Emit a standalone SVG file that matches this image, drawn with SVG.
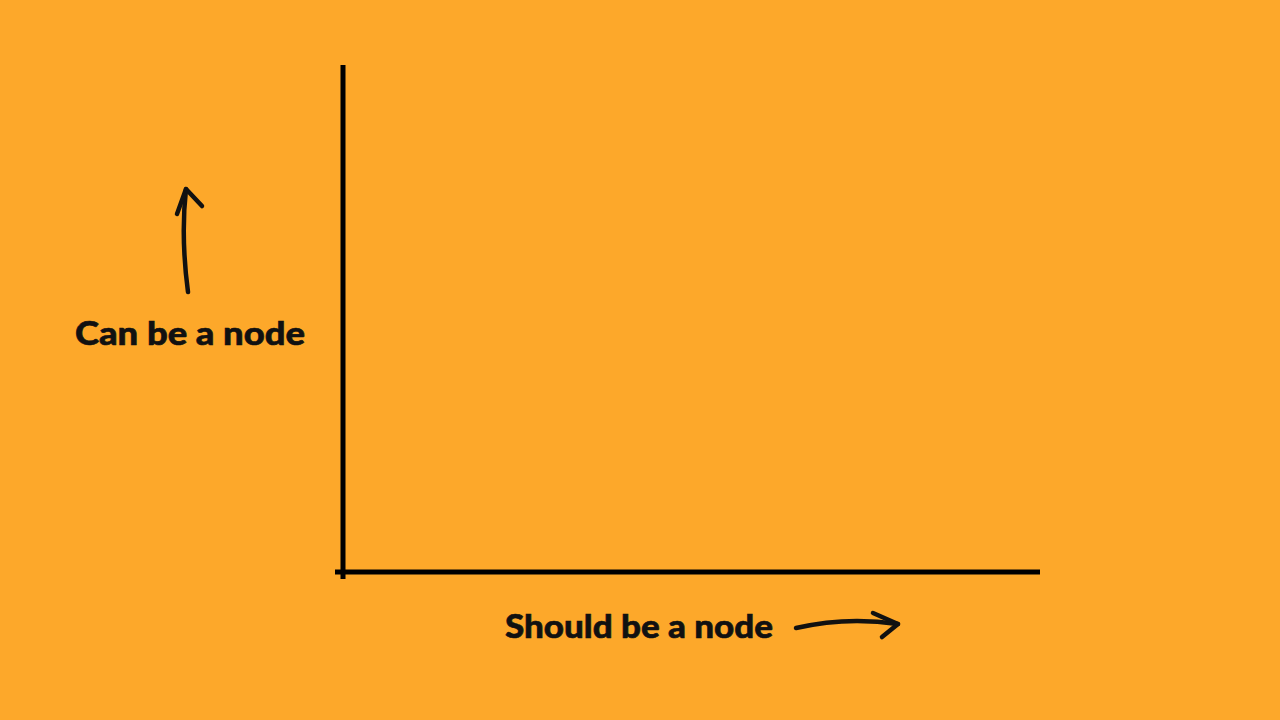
<svg xmlns="http://www.w3.org/2000/svg" width="1280" height="720" viewBox="0 0 1280 720">
<style>
.axis{stroke:#000;stroke-width:5;fill:none}
.arr{stroke:#111;stroke-width:4.5;fill:none;stroke-linecap:round;stroke-linejoin:round}
.lbl{font-family:"Lato","Noto Sans",sans-serif;font-weight:900;font-size:33px;fill:#111;stroke:#111;stroke-width:0.6}
</style>
<rect width="1280" height="720" fill="#FDA82A"/>
<g id="axes">
<line class="axis" x1="343" y1="65" x2="343" y2="579"/>
<line class="axis" x1="335" y1="572" x2="1040" y2="572"/>
</g>
<g id="connectors">
<path class="arr" d="M188 292 C184 262 182 225 186 189"/>
<path class="arr" d="M177 214 L186 189 L202 206"/>
<path class="arr" d="M796 628 C830 620 865 619 898 624"/>
<path class="arr" d="M873 613 L898 624 L882 637"/>
</g>
<g id="label-y"><text class="lbl" x="75" y="345" textLength="230" lengthAdjust="spacingAndGlyphs">Can be a node</text></g>
<g id="label-x"><text class="lbl" x="505" y="638" textLength="268" lengthAdjust="spacingAndGlyphs">Should be a node</text></g>
</svg>
